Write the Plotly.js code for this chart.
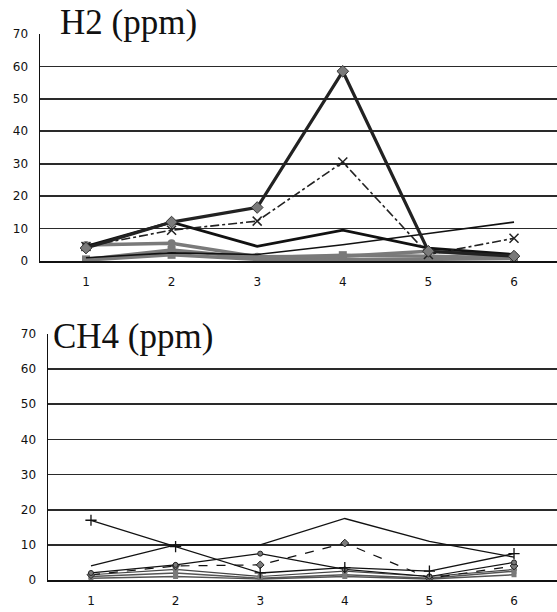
<!DOCTYPE html>
<html><head><meta charset="utf-8">
<script src="https://cdn.plot.ly/plotly-3.0.1.min.js"></script>
<style>html,body{margin:0;padding:0;background:#fff}#chart{width:557px;height:612px}</style>
</head><body><div id="chart"></div>
<script>
// Sampling points
const categories = [1, 2, 3, 4, 5, 6];
const yTicks = [0, 10, 20, 30, 40, 50, 60, 70];

// H2 (ppm) series
const h2_a = [4, 12, 16.5, 58.5, 3, 1.5];
const h2_b = [4.5, 9.5, 12.3, 30.5, 2, 7];
const h2_c = [4.5, 12, 4.5, 9.5, 4, 2];
const h2_d = [1, 2.5, 2, 5, 8.5, 12];
const h2_e = [4.9, 5.5, 1.3, 1.5, 3, 1.5];
const h2_f = [0.5, 3.4, 1, 1.8, 1.5, 1];
const h2_g = [0.3, 1.9, 0.5, 0.5, 0.5, 0.8];

// CH4 (ppm) series
const ch4_p = [17, 9.5, 2, 3.5, 2.5, 7.5];
const ch4_q = [4, 10, 10, 17.5, 11, 6.5];
const ch4_r = [2, 4.3, 7.5, 3, 1, 5];
const ch4_s = [1.5, 4, 4.3, 10.5, 0.5, 4];
const ch4_t = [1.5, 3, 1, 2.5, 1, 3];
const ch4_u = [1, 2, 0.5, 1.5, 0.5, 2.5];
const ch4_v = [0.5, 1, 0.3, 1, 0.3, 1.5];

function tr(y, xa, ya, line, marker) {
  return {x: categories, y: y, xaxis: xa, yaxis: ya, type: 'scatter',
    mode: marker ? 'lines+markers' : 'lines', line: line, marker: marker || {},
    showlegend: false, hoverinfo: 'skip'};
}
const G = '#7a7a7a';
const traces = [
  tr(h2_g, 'x', 'y', {color: G, width: 3.5}, {symbol: 'square', size: 8, color: G}),
  tr(h2_f, 'x', 'y', {color: G, width: 3.5}, {symbol: 'square', size: 8, color: G}),
  tr(h2_e, 'x', 'y', {color: G, width: 3.5}, {symbol: 'circle', size: 8, color: G}),
  tr(h2_d, 'x', 'y', {color: '#111', width: 1.6}),
  tr(h2_c, 'x', 'y', {color: '#111', width: 2.8}),
  tr(h2_b, 'x', 'y', {color: '#222', width: 1.6, dash: 'dashdot'}, {symbol: 'x-thin', size: 9, color: '#222', line: {width: 1.5, color: '#222'}}),
  tr(h2_a, 'x', 'y', {color: '#222', width: 3.2}, {symbol: 'diamond', size: 9, color: G, line: {width: 1, color: '#333'}}),

  tr(ch4_v, 'x2', 'y2', {color: '#555', width: 1.4}, {symbol: 'square', size: 5, color: G}),
  tr(ch4_u, 'x2', 'y2', {color: '#555', width: 1.4}, {symbol: 'square', size: 5, color: G}),
  tr(ch4_t, 'x2', 'y2', {color: '#444', width: 1.2}, {symbol: 'circle', size: 6, color: G}),
  tr(ch4_s, 'x2', 'y2', {color: '#111', width: 1.2, dash: 'dash'}, {symbol: 'diamond', size: 6, color: G, line: {width: 1, color: '#222'}}),
  tr(ch4_r, 'x2', 'y2', {color: '#111', width: 1.2}, {symbol: 'circle', size: 5, color: G, line: {width: 1, color: '#222'}}),
  tr(ch4_q, 'x2', 'y2', {color: '#111', width: 1.3}),
  tr(ch4_p, 'x2', 'y2', {color: '#111', width: 1.3}, {symbol: 'cross-thin', size: 8, line: {width: 1.3, color: '#111'}})
];

const tickFont = {family: 'DejaVu Sans', size: 12, color: '#111'};
function xax(domain, range, anchor) {
  return {domain: domain, range: range, anchor: anchor, tickmode: 'array', tickvals: categories,
    ticktext: categories.map(String), showgrid: false, zeroline: false, showline: true,
    linecolor: '#111', linewidth: 1.5, ticks: '', tickfont: tickFont, ticklabelstandoff: 9, fixedrange: true};
}
function yax(domain, anchor) {
  return {domain: domain, range: [0, 70], anchor: anchor, tickmode: 'array', tickvals: yTicks,
    showgrid: true, gridcolor: '#2a2a2a', gridwidth: 1.6, zeroline: false, showline: true,
    linecolor: '#111', linewidth: 1.5, ticks: '', tickfont: tickFont, ticklabelstandoff: 8, fixedrange: true};
}
const layout = {
  width: 557, height: 612, margin: {l: 0, r: 0, t: 0, b: 0},
  paper_bgcolor: '#fff', plot_bgcolor: '#fff',
  xaxis: xax([40/557, 1], [0.463, 6.502], 'y'),
  yaxis: yax([1 - 261/612, 1 - 34/612], 'x'),
  xaxis2: xax([48/557, 1], [0.492, 6.508], 'y2'),
  yaxis2: yax([1 - 580/612, 1 - 334/612], 'x2'),
  annotations: [
    {text: 'H2 (ppm)', xref: 'paper', yref: 'paper', x: 58/557, y: 1 - 23/612, xanchor: 'left', yanchor: 'middle',
     showarrow: false, font: {family: 'Liberation Serif', size: 35, color: '#111'}},
    {text: 'CH4 (ppm)', xref: 'paper', yref: 'paper', x: 51/557, y: 1 - 336/612, xanchor: 'left', yanchor: 'middle',
     showarrow: false, font: {family: 'Liberation Serif', size: 35, color: '#111'}}
  ]
};
Plotly.newPlot('chart', traces, layout, {staticPlot: true, displayModeBar: false});
</script></body></html>
